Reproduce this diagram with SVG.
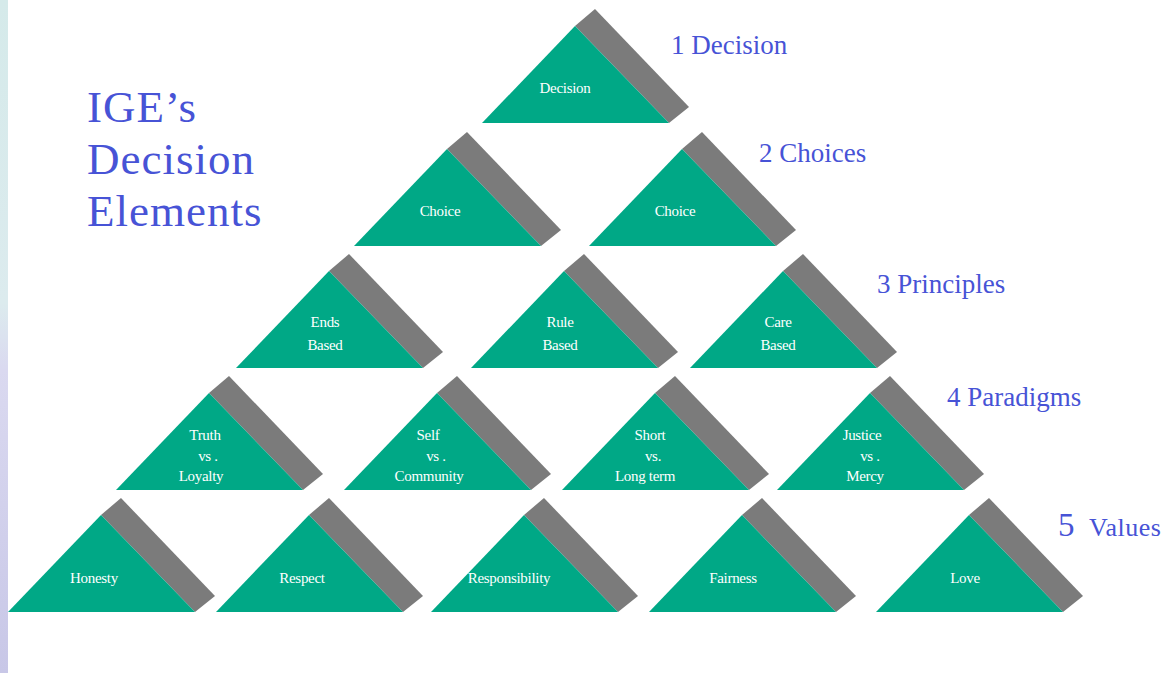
<svg xmlns="http://www.w3.org/2000/svg" xmlns:xlink="http://www.w3.org/1999/xlink" width="1172" height="673" viewBox="0 0 1172 673">
<style>
.face{fill:#00A886}
.band{fill:#7B7B7B}
.lbl{font-family:"Liberation Serif","Times New Roman",serif;font-size:15px;fill:#FFFFFF;text-anchor:middle;letter-spacing:-0.3px}
.side{font-family:"Liberation Serif","Times New Roman",serif;font-size:27px;fill:#4753D6}
.title{font-family:"Liberation Serif","Times New Roman",serif;font-size:45px;fill:#4753D6;letter-spacing:1px}
</style>
<defs>
<linearGradient id="strip" x1="0" y1="0" x2="0" y2="1">
<stop offset="0" stop-color="#D5EAEA"/>
<stop offset="0.45" stop-color="#DCEBEE"/>
<stop offset="0.55" stop-color="#DAD9F0"/>
<stop offset="1" stop-color="#C8C7E7"/>
</linearGradient>
<g id="tri">
<polygon class="band" points="93,-97 113,-114 207,-16 187,0"/>
<polygon class="face" points="0,0 187,0 93,-97"/>
</g>
</defs>
<rect x="0" y="0" width="1172" height="673" fill="#FFFFFF"/>
<rect x="0" y="0" width="8" height="673" fill="url(#strip)"/>

<g id="title">
<text class="title" x="87" y="122">IGE’s</text>
<text class="title" x="87" y="174">Decision</text>
<text class="title" x="87" y="226">Elements</text>
</g>

<g id="level-labels">
<text class="side" x="671" y="53.5">1 Decision</text>
<text class="side" x="759" y="161.5">2 Choices</text>
<text class="side" x="877" y="292.5">3 Principles</text>
<text class="side" x="947" y="405.5">4 Paradigms</text>
<text class="side" x="1058" y="535.5"><tspan font-size="33">5</tspan><tspan x="1089" font-size="26" letter-spacing="0.5">Values</tspan></text>
</g>

<g id="connectors"></g>

<g id="node-decision">
<use xlink:href="#tri" href="#tri" transform="translate(482,123)"/>
<text class="lbl" x="565" y="93">Decision</text>
</g>

<g id="node-choice-1">
<use xlink:href="#tri" href="#tri" transform="translate(354,246)"/>
<text class="lbl" x="440" y="216">Choice</text>
</g>
<g id="node-choice-2">
<use xlink:href="#tri" href="#tri" transform="translate(589,246)"/>
<text class="lbl" x="675" y="216">Choice</text>
</g>

<g id="node-ends-based">
<use xlink:href="#tri" href="#tri" transform="translate(236,368)"/>
<text class="lbl" x="325" y="327">Ends</text>
<text class="lbl" x="325" y="350">Based</text>
</g>
<g id="node-rule-based">
<use xlink:href="#tri" href="#tri" transform="translate(471,368)"/>
<text class="lbl" x="560" y="327">Rule</text>
<text class="lbl" x="560" y="350">Based</text>
</g>
<g id="node-care-based">
<use xlink:href="#tri" href="#tri" transform="translate(690,368)"/>
<text class="lbl" x="778" y="327">Care</text>
<text class="lbl" x="778" y="350">Based</text>
</g>

<g id="node-truth-loyalty">
<use xlink:href="#tri" href="#tri" transform="translate(116,490)"/>
<text class="lbl" x="205" y="439.5">Truth</text>
<text class="lbl" x="208" y="460.5">vs .</text>
<text class="lbl" x="201" y="481">Loyalty</text>
</g>
<g id="node-self-community">
<use xlink:href="#tri" href="#tri" transform="translate(344,490)"/>
<text class="lbl" x="428" y="439.5">Self</text>
<text class="lbl" x="436" y="460.5">vs .</text>
<text class="lbl" x="429" y="481">Community</text>
</g>
<g id="node-short-long">
<use xlink:href="#tri" href="#tri" transform="translate(562,490)"/>
<text class="lbl" x="650" y="439.5">Short</text>
<text class="lbl" x="653" y="460.5">vs.</text>
<text class="lbl" x="645" y="481">Long term</text>
</g>
<g id="node-justice-mercy">
<use xlink:href="#tri" href="#tri" transform="translate(777,490)"/>
<text class="lbl" x="862" y="439.5">Justice</text>
<text class="lbl" x="870" y="460.5">vs .</text>
<text class="lbl" x="865" y="481">Mercy</text>
</g>

<g id="node-honesty">
<use xlink:href="#tri" href="#tri" transform="translate(8,612)"/>
<text class="lbl" x="94" y="583">Honesty</text>
</g>
<g id="node-respect">
<use xlink:href="#tri" href="#tri" transform="translate(216,612)"/>
<text class="lbl" x="302" y="583">Respect</text>
</g>
<g id="node-responsibility">
<use xlink:href="#tri" href="#tri" transform="translate(431,612)"/>
<text class="lbl" x="509" y="583">Responsibility</text>
</g>
<g id="node-fairness">
<use xlink:href="#tri" href="#tri" transform="translate(649,612)"/>
<text class="lbl" x="733" y="583">Fairness</text>
</g>
<g id="node-love">
<use xlink:href="#tri" href="#tri" transform="translate(876,612)"/>
<text class="lbl" x="965" y="583">Love</text>
</g>
</svg>
